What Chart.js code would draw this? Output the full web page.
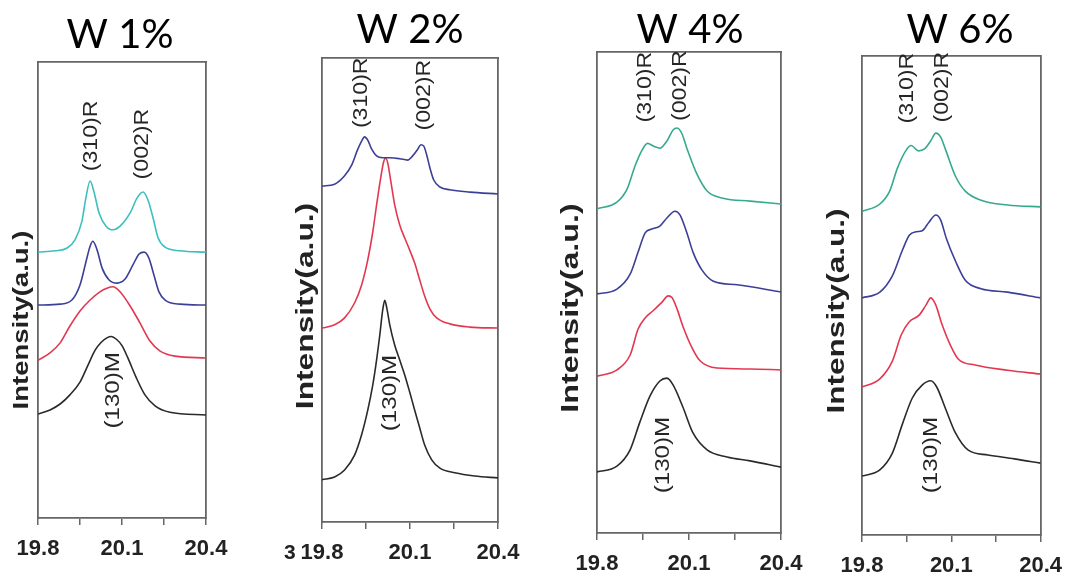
<!DOCTYPE html>
<html>
<head>
<meta charset="utf-8">
<script src="https://cdn.jsdelivr.net/npm/chart.js@4.4.0/dist/chart.umd.min.js"></script>
<style>
  html, body { margin: 0; padding: 0; background: #fff; }
  #wrap { position: relative; width: 1073px; height: 575px; overflow: hidden; background: #fff; }
  canvas { position: absolute; top: 0; }
</style>
</head>
<body>
<div id="wrap">
  <canvas id="c1" width="268" height="575" style="left:0px"></canvas>
  <canvas id="c2" width="278" height="575" style="left:268px"></canvas>
  <canvas id="c3" width="270" height="575" style="left:546px"></canvas>
  <canvas id="c4" width="257" height="575" style="left:816px"></canvas>
</div>
<script>
// 2-theta axis, same for every panel
const xTicks = [19.8, 19.95, 20.1, 20.25, 20.4];
const xTickLabels = ['19.8', '', '20.1', '', '20.4'];

// W 1%  -- [2theta, intensity a.u. (0-100 of the frame)]
const w1Cyan = [[19.800,58.3],[19.861,58.6],[19.904,59.2],[19.932,61.0],[19.957,65.1],[19.971,70.2],[19.986,73.9],[20.000,71.5],[20.018,66.9],[20.043,64.0],[20.068,63.2],[20.093,64.0],[20.129,66.9],[20.154,70.2],[20.175,71.5],[20.193,69.7],[20.211,65.8],[20.229,61.4],[20.254,59.4],[20.307,58.6],[20.400,58.3]];
const w1Blue = [[19.800,46.7],[19.879,46.9],[19.921,47.8],[19.950,51.1],[19.971,56.1],[19.986,59.6],[19.996,60.7],[20.011,58.8],[20.029,54.8],[20.054,52.2],[20.082,51.5],[20.111,52.4],[20.139,55.5],[20.161,57.9],[20.179,58.3],[20.196,57.0],[20.214,53.3],[20.232,49.6],[20.254,47.8],[20.307,46.9],[20.400,46.7]];
const w1Red = [[19.800,34.6],[19.843,36.2],[19.879,38.4],[19.914,42.1],[19.950,45.4],[19.986,47.8],[20.021,49.6],[20.046,50.4],[20.068,50.7],[20.093,49.6],[20.129,46.5],[20.164,42.8],[20.200,38.8],[20.236,36.6],[20.289,35.5],[20.400,35.1]];
const w1Black = [[19.800,22.8],[19.843,23.7],[19.879,25.0],[19.914,27.0],[19.950,29.8],[19.979,33.6],[20.004,36.8],[20.025,38.5],[20.046,39.5],[20.062,39.8],[20.080,39.2],[20.100,37.8],[20.121,35.1],[20.150,30.9],[20.182,27.0],[20.218,24.6],[20.271,23.2],[20.400,22.6]];
const w1Peaks = [['(310)R', 19.989, 83.8], ['(002)R', 20.171, 82.0], ['(130)M', 20.068, 28.0]];

// W 2%
const w2Blue = [[19.800,72.4],[19.843,72.8],[19.877,74.6],[19.901,76.9],[19.921,80.2],[19.935,82.1],[19.945,83.0],[19.956,82.3],[19.969,80.4],[19.986,78.9],[20.007,78.5],[20.031,78.5],[20.065,78.3],[20.092,78.0],[20.109,78.9],[20.127,80.4],[20.137,81.3],[20.147,81.0],[20.157,79.1],[20.168,76.3],[20.181,73.7],[20.202,72.2],[20.236,71.6],[20.304,71.1],[20.400,70.7]];
const w2Red = [[19.800,41.8],[19.843,42.5],[19.877,44.0],[19.911,47.2],[19.935,51.1],[19.956,56.5],[19.973,62.5],[19.986,68.3],[20.000,74.1],[20.010,77.6],[20.017,78.4],[20.024,77.4],[20.034,73.7],[20.048,68.3],[20.065,64.0],[20.082,61.2],[20.099,58.6],[20.116,55.8],[20.133,52.2],[20.150,48.7],[20.168,45.9],[20.191,44.0],[20.236,42.7],[20.304,42.0],[20.400,41.8]];
const w2Black = [[19.800,9.1],[19.843,9.7],[19.877,11.2],[19.911,14.4],[19.935,18.8],[19.956,24.1],[19.973,29.5],[19.986,34.9],[19.997,40.3],[20.007,45.7],[20.014,47.8],[20.021,46.1],[20.031,42.5],[20.048,38.1],[20.065,34.9],[20.082,31.7],[20.099,28.0],[20.116,24.1],[20.133,20.3],[20.150,16.6],[20.174,13.4],[20.202,11.6],[20.253,10.6],[20.321,9.9],[20.400,9.5]];
const w2Peaks = [['(310)R', 19.935, 92.5], ['(002)R', 20.147, 92.0], ['(130)M', 20.031, 27.8]];

// W 4%
const w4Cyan = [[19.800,67.4],[19.865,68.8],[19.898,71.5],[19.924,76.3],[19.947,79.6],[19.965,81.0],[19.985,80.4],[20.005,80.0],[20.028,81.5],[20.048,83.8],[20.061,84.2],[20.077,83.0],[20.093,80.0],[20.126,74.6],[20.159,71.1],[20.211,69.6],[20.299,69.0],[20.400,68.4]];
const w4Blue = [[19.800,49.7],[19.865,50.7],[19.908,53.8],[19.934,58.4],[19.957,62.4],[19.979,63.2],[20.005,63.8],[20.028,65.5],[20.054,66.9],[20.071,66.1],[20.093,62.4],[20.113,58.4],[20.142,54.7],[20.178,52.4],[20.257,51.6],[20.400,50.1]];
const w4Red = [[19.800,32.6],[19.865,33.9],[19.908,37.0],[19.934,42.4],[19.957,44.7],[19.983,46.2],[20.012,48.0],[20.032,49.3],[20.045,48.9],[20.061,46.6],[20.080,43.0],[20.110,38.5],[20.136,35.8],[20.191,34.3],[20.299,34.1],[20.400,33.9]];
const w4Black = [[19.800,12.7],[19.865,13.9],[19.908,17.3],[19.940,23.1],[19.973,28.5],[20.005,31.6],[20.028,32.2],[20.048,30.8],[20.080,26.2],[20.113,20.8],[20.159,17.3],[20.224,15.8],[20.299,15.0],[20.400,13.7]];
const w4Peaks = [['(310)R', 19.957, 92.7], ['(002)R', 20.071, 93.0], ['(130)M', 20.015, 16.2]];

// W 6%
const w6Cyan = [[19.800,67.6],[19.860,69.1],[19.893,71.8],[19.919,76.6],[19.949,80.4],[19.965,81.3],[19.990,80.2],[20.010,80.6],[20.031,82.3],[20.048,83.9],[20.064,83.1],[20.081,80.4],[20.114,74.9],[20.147,71.8],[20.200,69.9],[20.289,68.9],[20.400,68.5]];
const w6Blue = [[19.800,49.5],[19.860,50.7],[19.902,54.1],[19.936,59.5],[19.959,62.6],[19.982,63.3],[20.002,63.5],[20.025,65.3],[20.048,66.8],[20.064,65.8],[20.084,61.8],[20.114,57.2],[20.147,53.2],[20.200,51.4],[20.289,50.7],[20.400,49.5]];
const w6Red = [[19.800,30.9],[19.860,32.6],[19.902,36.3],[19.932,41.8],[19.959,44.5],[19.992,45.9],[20.015,48.0],[20.031,49.5],[20.048,48.0],[20.068,44.1],[20.098,39.5],[20.124,36.7],[20.180,35.5],[20.289,34.4],[20.400,33.6]];
const w6Black = [[19.800,12.3],[19.860,13.6],[19.902,17.1],[19.936,23.2],[19.969,28.6],[20.002,31.3],[20.031,32.2],[20.051,30.9],[20.081,26.3],[20.114,21.3],[20.157,17.7],[20.223,16.7],[20.312,15.9],[20.400,15.0]];
const w6Peaks = [['(310)R', 19.952, 93.3], ['(002)R', 20.068, 93.5], ['(130)M', 20.031, 16.7]];

const CYAN = '#3dbfbf', TEAL = '#36a98e', BLUE = '#3c3f96', RED = '#e2384f', BLACK = '#2a2a2a';
const FRAME = '#666';

// peak label look (font size, stretch along the text)
const peakStyle = {
    '(310)R': { size: 21, stretch: 1.1 },
    '(002)R': { size: 21, stretch: 1.1 },
    '(130)M': { size: 21, stretch: 1.15 }
};

// axisH = room under the frame for the 2-theta tick labels
const panels = [
    { id: 'c1', title: 'W 1%', series: [w1Cyan, w1Blue, w1Red, w1Black], colors: [CYAN, BLUE, RED, BLACK], peaks: w1Peaks,
      pad: { left: 38, right: 62, top: 62, bottom: 0 }, axisH: 57, titleX: 120, titleY: 48,
      yLab: { x: 22, y: 320, size: 22, stretch: 1.25 }, extra: [] },
    { id: 'c2', title: 'W 2%', series: [w2Blue, w2Red, w2Black], colors: [BLUE, RED, BLACK], peaks: w2Peaks,
      pad: { left: 54, right: 48, top: 58, bottom: 0 }, axisH: 53, titleX: 142, titleY: 43,
      yLab: { x: 39, y: 306, size: 23, stretch: 1.38 }, extra: [['3', 16, 553]] },
    { id: 'c3', title: 'W 4%', series: [w4Cyan, w4Blue, w4Red, w4Black], colors: [TEAL, BLUE, RED, BLACK], peaks: w4Peaks,
      pad: { left: 51, right: 35, top: 52, bottom: 0 }, axisH: 42, titleX: 144, titleY: 43,
      yLab: { x: 26, y: 308, size: 23, stretch: 1.4 }, extra: [] },
    { id: 'c4', title: 'W 6%', series: [w6Cyan, w6Blue, w6Red, w6Black], colors: [TEAL, BLUE, RED, BLACK], peaks: w6Peaks,
      pad: { left: 46, right: 30, top: 56, bottom: 0 }, axisH: 40, titleX: 144, titleY: 43,
      yLab: { x: 22, y: 311, size: 23, stretch: 1.37 }, extra: [] }
];

function drawRotated(ctx, text, x, y, font, stretch, color) {
    ctx.save();
    ctx.translate(x, y);
    ctx.rotate(-Math.PI / 2);
    ctx.scale(stretch, 1);
    ctx.font = font;
    ctx.fillStyle = color;
    ctx.textAlign = 'center';
    ctx.textBaseline = 'middle';
    ctx.fillText(text, 0, 0);
    ctx.restore();
}

// titles, y label and peak names
function textPlugin(p) {
    return {
        id: 'panelText',
        afterDraw(chart) {
            const ctx = chart.ctx;
            ctx.save();
            ctx.fillStyle = '#000';
            ctx.font = '40px Lato';
            ctx.textAlign = 'center';
            ctx.textBaseline = 'alphabetic';
            ctx.fillText(p.title, p.titleX, p.titleY);

            drawRotated(ctx, 'Intensity(a.u.)', p.yLab.x, p.yLab.y,
                'bold ' + p.yLab.size + 'px "Liberation Sans"', p.yLab.stretch, '#222');

            const xs = chart.scales.x;
            const ys = chart.scales.y;
            p.peaks.forEach(function(pk) {
                const st = peakStyle[pk[0]];
                drawRotated(ctx, pk[0], xs.getPixelForValue(pk[1]), ys.getPixelForValue(pk[2]),
                    st.size + 'px "Liberation Sans"', st.stretch, '#262626');
            });

            p.extra.forEach(function(e) {
                ctx.font = 'bold 21px "Liberation Sans"';
                ctx.fillStyle = '#222';
                ctx.textAlign = 'left';
                ctx.textBaseline = 'middle';
                ctx.fillText(e[0], e[1], e[2]);
            });
            ctx.restore();
        }
    };
}

function frameAxis(axis, position) {
    return {
        axis: axis,
        type: 'linear',
        position: position,
        display: true,
        afterFit: function(s) { if (axis === 'x') s.height = 0; else s.width = 0; },
        ticks: { display: false },
        grid: { display: false },
        border: { display: true, color: FRAME, width: 1.8 }
    };
}

function createChart(p) {
    const datasets = p.series.map(function(s, i) {
        return {
            data: s.map(pt => ({ x: pt[0], y: pt[1] })),
            borderColor: p.colors[i],
            borderWidth: 1.6,
            pointRadius: 0,
            cubicInterpolationMode: 'monotone',
            fill: false
        };
    });

    return new Chart(document.getElementById(p.id), {
        type: 'line',
        data: { datasets: datasets },
        options: {
            responsive: false,
            animation: false,
            devicePixelRatio: 1,
            layout: { padding: p.pad },
            plugins: { legend: { display: false }, tooltip: { enabled: false } },
            scales: {
                x: {
                    type: 'linear',
                    position: 'bottom',
                    min: 19.8,
                    max: 20.4,
                    afterFit: function(s) { s.height = p.axisH; },
                    afterBuildTicks: function(s) { s.ticks = xTicks.map(v => ({ value: v })); },
                    ticks: {
                        autoSkip: false,
                        maxRotation: 0,
                        padding: 11,
                        color: '#222',
                        font: { family: '"Liberation Sans", Arial', weight: 'bold', size: 22 },
                        callback: function(v, i) { return xTickLabels[i]; }
                    },
                    grid: { drawOnChartArea: false, drawTicks: true, tickLength: 7, color: FRAME, lineWidth: 1.5 },
                    border: { display: true, color: FRAME, width: 1.8 }
                },
                y: {
                    type: 'linear',
                    position: 'left',
                    min: 0,
                    max: 100,
                    afterFit: function(s) { s.width = 0; },
                    ticks: { display: false },
                    grid: { display: false },
                    border: { display: true, color: FRAME, width: 1.8 }
                },
                xTop: frameAxis('x', 'top'),
                yRight: frameAxis('y', 'right')
            }
        },
        plugins: [textPlugin(p)]
    });
}

panels.forEach(createChart);
</script>
</body>
</html>
